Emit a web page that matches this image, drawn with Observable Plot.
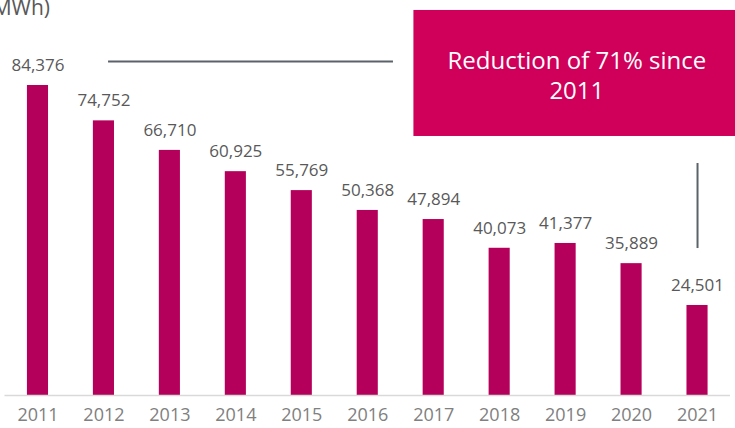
<!DOCTYPE html>
<html><head><meta charset="utf-8">
<script src="https://cdn.jsdelivr.net/npm/d3@7"></script>
<script src="https://cdn.jsdelivr.net/npm/@observablehq/plot@0.6"></script>
<style>
body{margin:0;background:#fff;}
#wrap{position:relative;width:735px;height:428px;overflow:hidden;font-family:"Open Sans",sans-serif;}
#title{position:absolute;right:685px;top:-7px;font-size:21px;color:#595959;white-space:nowrap;}
#chart{position:absolute;left:0;top:0;}
</style></head>
<body>
<div id="wrap"><div id="title">(MWh)</div><div id="chart"></div></div>
<script>
const years = [2011,2012,2013,2014,2015,2016,2017,2018,2019,2020,2021];
const values = [84376,74752,66710,60925,55769,50368,47894,40073,41377,35889,24501];
const data = years.map((y,i)=>({year:y, value:values[i]}));

// annotations (data space)
const boxX = [2016.70, 2021.6];
const boxY = [70500, 104800];
const boxLines = ["Reduction of 71% since", "2011"];
const boxTextX = 2019.17;
const boxTextY = [90900, 82700];
const hLine = {x1: 2012.07, x2: 2016.39, y: 90900};
const vLine = {x: 2021, y1: 40000, y2: 63150};

const halfBar = 0.16;

const plot = Plot.plot({
  width: 735, height: 428,
  marginLeft: 4.5, marginRight: 5, marginTop: 0, marginBottom: 33,
  style: {fontFamily: "Open Sans", background: "transparent"},
  x: {domain: [2010.5, 2021.5], axis: null},
  y: {domain: [0, 84376], range: [395, 85], axis: null},
  marks: [
    Plot.rectY(data, {x1: d => d.year - halfBar, x2: d => d.year + halfBar, y1: 0, y2: "value", fill: "#b5005b"}),
    Plot.ruleY([0], {stroke: "#d9d9d9", strokeWidth: 1.5}),
    Plot.text(data, {x: "year", y: "value", text: d => d3.format(",")(d.value), dy: -20, fontSize: 17, fill: "#595959"}),
    Plot.text(years, {x: d => d, y: 0, text: d => String(d), dy: 20, fontSize: 18, fill: "#808080"}),
    Plot.rect([0], {x1: boxX[0], x2: boxX[1], y1: boxY[0], y2: boxY[1], fill: "#d0005a"}),
    Plot.text(boxLines, {x: boxTextX, y: (d,i) => boxTextY[i], text: d => d, fontSize: 24, fill: "#ffffff"}),
    Plot.ruleY([hLine], {x1: "x1", x2: "x2", y: "y", stroke: "#5b636a", strokeWidth: 2}),
    Plot.ruleX([vLine], {x: "x", y1: "y1", y2: "y2", stroke: "#5b636a", strokeWidth: 2})
  ]
});
document.getElementById("chart").appendChild(plot);
</script>
</body></html>
